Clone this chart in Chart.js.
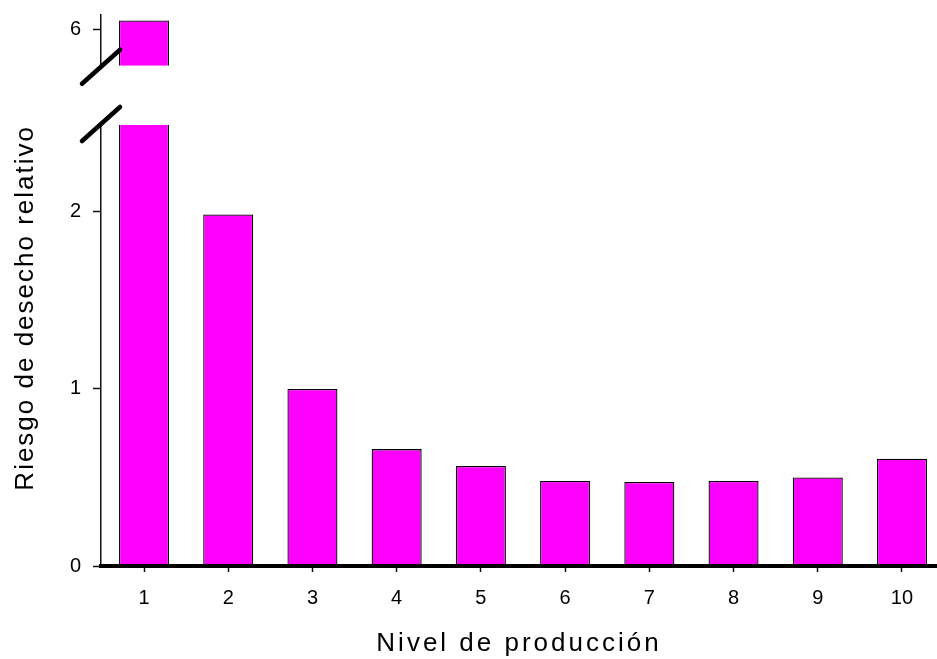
<!DOCTYPE html>
<html lang="es">
<head>
<meta charset="utf-8">
<title>Riesgo de desecho relativo</title>
<script src="https://cdn.jsdelivr.net/npm/chart.js@4.4.1/dist/chart.umd.min.js"></script>
<style>
  html, body { margin: 0; padding: 0; background: #ffffff; }
  #chartBox { width: 937px; height: 659px; }
</style>
</head>
<body>
<div id="chartBox">
  <canvas id="riskChart" width="937" height="659"></canvas>
</div>
<script>
// Production levels and the relative culling risk
const niveles = [1, 2, 3, 4, 5, 6, 7, 8, 9, 10];
const riesgo = [6.05, 1.985, 1.0, 0.66, 0.565, 0.48, 0.474, 0.48, 0.50, 0.606];

// Broken y axis: lower and upper segments with their tick labels
const lowerRange = [0, 2.49];
const upperRange = [5.795, 6.081];
const lowerTicks = [0, 1, 2];
const upperTicks = [6];

// x range padded around the categories (left edge sits on the y axis)
const xRange = [0.4894, 10.4156];

const FONT = "'Liberation Sans', Arial, Helvetica, sans-serif";
const INK = '#111111';
const AXIS_WIDTH = 101;

let riskChart = null;

/**
 * Clip each dataset to the y segment it belongs to, so the
 * first bar is cut at the axis break.
 */
const segmentClip = {
  id: 'segmentClip',
  beforeDatasetDraw(chart, args) {
    const yScale = args.meta.yScale;
    const area = chart.chartArea;
    const ctx = chart.ctx;
    ctx.save();
    ctx.beginPath();
    ctx.rect(area.left, yScale.top, area.right - area.left, yScale.bottom - yScale.top);
    ctx.clip();
  },
  afterDatasetDraw(chart) {
    chart.ctx.restore();
  }
};

/**
 * The axis titles in the figure are widely tracked, add letter spacing
 */
const titleSpacing = {
  id: 'titleSpacing',
  beforeDraw(chart) {
    const spacing = { x: '3px', y: '2px' };
    Object.keys(spacing).forEach(id => {
      const scale = chart.scales[id];
      if (!scale || scale._spaced) return;
      const original = scale.drawTitle;
      scale.drawTitle = function() {
        const ctx = this.ctx;
        const prev = ctx.letterSpacing;
        ctx.letterSpacing = spacing[id];
        original.call(this);
        ctx.letterSpacing = prev || '0px';
      };
      scale._spaced = true;
    });
  }
};

/**
 * Draw the two slashes marking the break of the y axis
 */
const axisBreak = {
  id: 'axisBreak',
  afterDraw(chart) {
    const ctx = chart.ctx;
    const lower = chart.scales.y;
    const upper = chart.scales.y2;
    const x = chart.chartArea.left;
    ctx.save();
    ctx.strokeStyle = '#000000';
    ctx.lineWidth = 4.5;
    ctx.lineCap = 'round';
    [upper.bottom + 1, lower.top - 1].forEach(cy => {
      ctx.beginPath();
      ctx.moveTo(x - 19, cy + 17);
      ctx.lineTo(x + 19, cy - 17);
      ctx.stroke();
    });
    ctx.restore();
  }
};

/**
 * Shared options for one segment of the y axis
 * @param range - [min, max] of the segment
 * @param ticks - tick values shown on the segment
 * @param weight - share of the plot height
 */
function segmentAxis(range, ticks, weight) {
  return {
    type: 'linear',
    position: 'left',
    stack: 'riesgo',
    stackWeight: weight,
    min: range[0],
    max: range[1],
    afterBuildTicks: scale => { scale.ticks = ticks.map(v => ({ value: v })); },
    afterFit: scale => {
      // fixed axis width, and no extra room for half tick labels
      scale.width = AXIS_WIDTH;
      scale.paddingTop = 0;
      scale.paddingBottom = 0;
    },
    grid: {
      display: true,
      drawOnChartArea: false,
      drawTicks: true,
      tickLength: 8,
      tickWidth: 1.5,
      tickColor: INK
    },
    border: { display: true, color: INK, width: 1.5 },
    ticks: {
      padding: 12,
      color: '#000000',
      font: { family: FONT, size: 20 },
      callback: value => String(value)
    }
  };
}

/**
 * Build the bar chart with a broken y axis
 */
function initializeRiskChart() {
  const element = document.getElementById('riskChart');
  if (!element || !(element instanceof HTMLCanvasElement)) {
    console.error('Canvas riskChart not found');
    return null;
  }

  const points = niveles.map((n, i) => ({ x: n, y: riesgo[i] }));
  const barStyle = {
    backgroundColor: '#ff00ff',
    borderColor: '#000000',
    borderWidth: 1.3,
    barPercentage: 0.594,
    categoryPercentage: 1,
    grouped: false
  };

  const lowerAxis = segmentAxis(lowerRange, lowerTicks, 441);
  lowerAxis.title = {
    display: true,
    text: 'Riesgo de desecho relativo',
    align: 'end',
    color: '#000000',
    font: { family: FONT, size: 26 },
    padding: { top: 10, bottom: 0 }
  };

  const gapAxis = segmentAxis([0, 1], [], 59.3);
  gapAxis.grid = { display: false };
  gapAxis.border = { display: false };
  gapAxis.ticks = { display: false };

  const upperAxis = segmentAxis(upperRange, upperTicks, 50.7);

  return new Chart(element, {
    type: 'bar',
    data: {
      datasets: [
        Object.assign({ label: 'inferior', data: points, yAxisID: 'y' }, barStyle),
        Object.assign({ label: 'superior', data: points, yAxisID: 'y2' }, barStyle)
      ]
    },
    options: {
      responsive: false,
      animation: false,
      layout: { padding: { top: 15, right: 0, bottom: 0, left: 0 } },
      plugins: {
        legend: { display: false },
        tooltip: { enabled: false }
      },
      scales: {
        x: {
          type: 'linear',
          min: xRange[0],
          max: xRange[1],
          offset: false,
          afterBuildTicks: scale => { scale.ticks = niveles.map(v => ({ value: v })); },
          afterFit: scale => {
            scale.height = 93;
            scale.paddingLeft = 0;
            scale.paddingRight = 0;
          },
          grid: {
            display: true,
            offset: false,
            drawOnChartArea: false,
            drawTicks: true,
            tickLength: 6,
            tickWidth: 1.5,
            tickColor: INK
          },
          border: { display: true, color: '#000000', width: 4, z: 1 },
          ticks: {
            padding: 14,
            color: '#000000',
            font: { family: FONT, size: 20 },
            callback: value => String(value)
          },
          title: {
            display: true,
            text: 'Nivel de producción',
            color: '#000000',
            font: { family: FONT, size: 26 },
            padding: { top: 0, bottom: 0 }
          }
        },
        y: lowerAxis,
        ygap: gapAxis,
        y2: upperAxis
      }
    },
    plugins: [segmentClip, titleSpacing, axisBreak]
  });
}

document.addEventListener('DOMContentLoaded', () => {
  riskChart = initializeRiskChart();
});
</script>
</body>
</html>
